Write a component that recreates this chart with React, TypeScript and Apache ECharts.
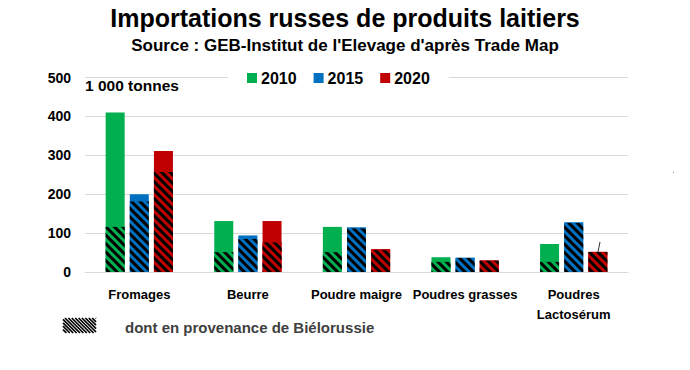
import React, { useEffect, useRef } from "react";
import * as echarts from "echarts";

const categories = ["Fromages", "Beurre", "Poudre maigre", "Poudres grasses", "Poudres\nLactosérum"];
const years = ["2010", "2015", "2020"];
const colors = ["#00B050", "#0070C0", "#C00000"];
const total2010 = [410, 131, 116, 38, 72];
const total2015 = [200, 94, 115, 37, 128];
const total2020 = [311, 131, 59, 30, 52];
const belarus2010 = [116, 51, 51, 26, 26];
const belarus2015 = [181, 85, 112, 36, 126];
const belarus2020 = [257, 76, 56, 29, 51];
const yTicks = [0, 100, 200, 300, 400, 500];

const FONT = "'Liberation Sans', Arial, sans-serif";

export default function App() {
  const ref = useRef<HTMLDivElement>(null);
  useEffect(() => {
    document.body.style.margin = "0";
    if (!ref.current) return;
    const chart = echarts.init(ref.current, undefined, { renderer: "svg" });
    const totals = [total2010, total2015, total2020];
    const belarus = [belarus2010, belarus2015, belarus2020];
    const decal = {
      symbol: "rect",
      symbolSize: 1,
      dashArrayX: [1, 0],
      dashArrayY: [2.6, 2.4],
      rotation: Math.PI / 4,
      color: "#000",
      backgroundColor: "transparent",
    };
    const series: any[] = [];
    years.forEach((y, i) => {
      series.push({
        name: y,
        type: "bar",
        xAxisIndex: 0,
        data: totals[i],
        barWidth: 19,
        barGap: "27%",
        itemStyle: { color: colors[i] },
        z: 2,
      });
    });
    years.forEach((y, i) => {
      series.push({
        name: y + " Biélorussie",
        type: "bar",
        xAxisIndex: 1,
        data: belarus[i],
        barWidth: 19,
        barGap: "27%",
        itemStyle: { color: colors[i], decal },
        z: 3,
      });
    });

    // hatch icon segments for bottom legend
    const hx0 = 63, hx1 = 96, hy0 = 318, hy1 = 333;
    const h = hy1 - hy0;
    const hatch: any[] = [];
    for (let c = hx0 - h; c < hx1; c += 3.4) {
      const xs = Math.max(c, hx0);
      const xe = Math.min(c + h, hx1);
      if (xe <= xs) continue;
      hatch.push({
        type: "line",
        shape: { x1: xs, y1: hy0 + (xs - c), x2: xe, y2: hy0 + (xe - c) },
        style: { stroke: "#000", lineWidth: 1.7 },
        silent: true,
      });
    }

    chart.setOption({
      animation: false,
      backgroundColor: "#fff",
      textStyle: { fontFamily: FONT },
      grid: { left: 85, right: 62, top: 77.5, bottom: 98, containLabel: false },
      legend: {
        data: years,
        left: 228,
        top: 68,
        padding: [2, 19, 2, 19],
        backgroundColor: "#fff",
        itemWidth: 10,
        itemHeight: 10,
        itemGap: 17,
        icon: "rect",
        textStyle: { fontFamily: FONT, fontSize: 16, fontWeight: "bold", color: "#000", padding: [0, 0, 0, -1] },
      },
      xAxis: [
        {
          type: "category",
          data: categories,
          axisLine: { lineStyle: { color: "#d9d9d9", width: 1 } },
          axisTick: { show: false },
          axisLabel: {
            interval: 0,
            fontFamily: FONT,
            fontSize: 13,
            fontWeight: "bold",
            color: "#000",
            margin: 12,
            lineHeight: 20,
            verticalAlign: "top",
          },
        },
        {
          type: "category",
          data: categories,
          show: false,
        },
      ],
      yAxis: {
        type: "value",
        min: yTicks[0],
        max: yTicks[yTicks.length - 1],
        interval: 100,
        axisLine: { show: false },
        axisTick: { show: false },
        splitLine: { lineStyle: { color: "#d9d9d9", width: 1 } },
        axisLabel: { fontFamily: FONT, fontSize: 14, fontWeight: "bold", color: "#000", margin: 14 },
      },
      graphic: [
        {
          type: "text",
          left: "center",
          top: 5,
          style: {
            text: "Importations russes de produits laitiers",
            font: "bold 25px " + FONT,
            fill: "#000",
          },
        },
        {
          type: "text",
          left: "center",
          top: 37,
          style: {
            text: "Source : GEB-Institut de l'Elevage d'après Trade Map",
            font: "bold 17px " + FONT,
            fill: "#000",
          },
        },
        {
          type: "text",
          x: 85,
          y: 85,
          style: {
            text: "1 000 tonnes",
            font: "bold 15.5px " + FONT,
            fill: "#000",
            verticalAlign: "middle",
          },
        },
        {
          type: "text",
          x: 125,
          y: 327,
          style: {
            text: "dont en provenance de Biélorussie",
            font: "bold 15px " + FONT,
            fill: "#404040",
            verticalAlign: "middle",
          },
        },
        {
          type: "line",
          shape: { x1: 600, y1: 242, x2: 598, y2: 252 },
          style: { stroke: "#333", lineWidth: 1 },
          z: 10,
        },
        {
          type: "rect",
          shape: { x: 673, y: 172, width: 1, height: 1 },
          style: { fill: "#888" },
        },
        ...hatch,
      ],
      series,
    });
    return () => chart.dispose();
  }, []);
  return <div ref={ref} style={{ width: 690, height: 370 }} />;
}
